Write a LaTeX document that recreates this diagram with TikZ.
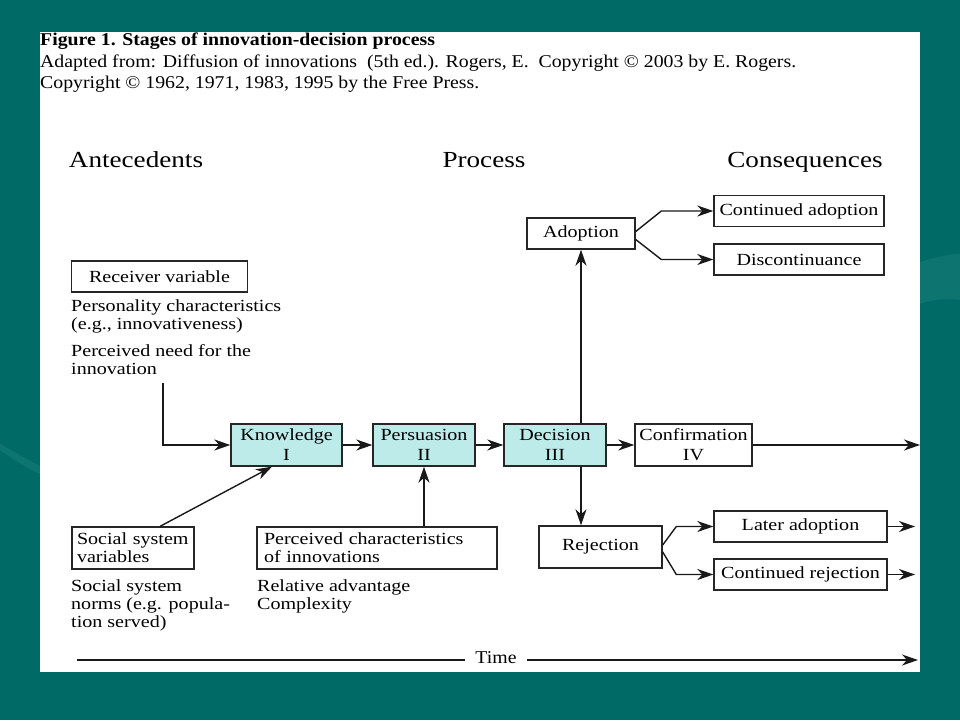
\documentclass[tikz,border=0pt]{standalone}
\usepackage{fontspec}
\setmainfont{Liberation Serif}
\newfontfamily\dfont[FakeStretch=1.18]{Liberation Serif}
\newfontfamily\tfont[FakeStretch=1.1]{Liberation Serif}
\usetikzlibrary{arrows.meta,calc}
\definecolor{teal0}{HTML}{006B66}
\definecolor{teal1}{HTML}{2E8A84}
\definecolor{boxfill}{HTML}{BDEBEA}
\tikzset{
  box/.style={draw=black!85, line width=1.4pt, inner sep=0pt, font=\dfont\fontsize{17}{20}\selectfont, align=center},
  stage/.style={box, fill=boxfill, minimum height=42pt},
  plain/.style={inner sep=0pt, font=\dfont\fontsize{17}{18}\selectfont, align=left},
  head/.style={inner sep=0pt, font=\dfont\fontsize{23}{26}\selectfont},
  ttl/.style={inner sep=0pt, anchor=west, font=\tfont\fontsize{18}{20}\selectfont},
  conn/.style={line width=1.4pt, black!90},
  arr/.style={conn, -{Stealth[length=16pt,width=11pt,inset=5pt]}}
}
\begin{document}
\begin{tikzpicture}[x=1pt,y=-1pt]
\useasboundingbox (0,0) rectangle (960,720);
\fill[teal0] (0,0) rectangle (960,720);
\fill[teal1,opacity=0.3] (920,262) .. controls (940,256) and (950,254) .. (960,254) -- (960,300) .. controls (945,298) and (930,300) .. (920,304) -- cycle;
\fill[teal1,opacity=0.3] (0,444) .. controls (15,452) and (28,460) .. (40,466) -- (40,474) .. controls (26,468) and (12,458) .. (0,450) -- cycle;
\fill[white] (40,32) rectangle (920,672);

% title
\node[ttl] (t1) at (40,41.5) {\bfseries Figure 1. Stages of innovation-decision process};
\node[ttl] (t2) at (40,63) {Adapted from: Diffusion of innovations\ \ (5th ed.). Rogers, E.\ \ Copyright © 2003 by E. Rogers.};
\node[ttl] (t3) at (40,84) {Copyright © 1962, 1971, 1983, 1995 by the Free Press.};

% headers
\node[head] (hA) at (136,160) {Antecedents};
\node[head] (hP) at (484,160) {Process};
\node[head] (hC) at (805,162) {Consequences};

% stages
\node[stage, minimum width=111pt] (know) at (286.5,445) {Knowledge\\I};
\node[stage, minimum width=102pt] (pers) at (424,445) {Persuasion\\II};
\node[stage, minimum width=102pt] (dec) at (555,445) {Decision\\III};
\node[box, minimum width=117pt, minimum height=42pt] (conf) at (693.5,445) {Confirmation\\IV};

% consequences
\node[box, minimum width=108pt, minimum height=31pt] (adop) at (581,233.5) {Adoption};
\node[box, minimum width=170pt, minimum height=31pt] (ca) at (799,211) {Continued adoption};
\node[box, minimum width=170pt, minimum height=31pt] (disc) at (799,259.5) {Discontinuance};
\node[box, minimum width=123pt, minimum height=42pt] (rej) at (600.5,547) {Rejection};
\node[box, minimum width=173pt, minimum height=31pt] (la) at (800.5,526.5) {Later adoption};
\node[box, minimum width=173pt, minimum height=31pt] (cr) at (800.5,574.5) {Continued rejection};

% antecedents
\node[box, minimum width=176pt, minimum height=31pt] (rv) at (159.5,276.5) {Receiver variable};
\node[plain, anchor=north west] (pcx) at (71,299) {Personality characteristics\\(e.g., innovativeness)};
\node[plain, anchor=north west] (pnd) at (71,344) {Perceived need for the\\innovation};
\node[box, minimum width=122pt, minimum height=42pt, align=left, text width=112pt, font=\dfont\fontsize{17}{18}\selectfont] (ssv) at (133,548) {Social system\\variables};
\node[plain, anchor=north west] (ssn) at (71,579) {Social system\\norms (e.g. popula-\\tion served)};
\node[box, minimum width=240pt, minimum height=42pt, align=left, text width=226pt, font=\dfont\fontsize{17}{18}\selectfont] (pc) at (377,548) {Perceived characteristics\\of innovations};
\node[plain, anchor=north west] (rel) at (257,579) {Relative advantage\\Complexity};

% time
\node[inner sep=0pt, font=\tfont\fontsize{18}{20}\selectfont] (time) at (496,658) {Time};
\coordinate (tl) at (77,660);
\coordinate (tr) at (918,660);
\draw[conn] (tl) -- ([xshift=-10pt]time.west |- tl);
\draw[arr] ([xshift=10pt]time.east |- tr) -- (tr);

% connectors
\coordinate (pnEnd) at (163,383);
\draw[arr] (pnEnd) |- (know.west);
\draw[arr] ($(ssv.north west)!0.72!(ssv.north east)$) -- ($(know.south west)!0.37!(know.south east)$);
\draw[arr] (pc.north -| pers.south) -- (pers.south);
\draw[arr] (know) -- (pers);
\draw[arr] (pers) -- (dec);
\draw[arr] (dec) -- (conf);
\coordinate (confEnd) at (920,445);
\draw[arr] (conf) -- (confEnd);
\draw[arr] (adop.south |- dec.north) -- (adop.south);
\draw[arr] (adop.south |- dec.south) -- (adop.south |- rej.north);
\draw[arr] ([yshift=2pt]adop.east) -- ([xshift=-52pt]ca.west) -- (ca.west);
\draw[arr] ([yshift=-6pt]adop.east) -- ([xshift=-52pt]disc.west) -- (disc.west);
\draw[arr] ([yshift=2pt]rej.east) -- ([xshift=-37pt]la.west) -- (la.west);
\draw[arr] ([yshift=-5pt]rej.east) -- ([xshift=-37pt]cr.west) -- (cr.west);
\coordinate (laEnd) at (915,526.5);
\coordinate (crEnd) at (915,574.5);
\draw[arr] (la) -- (laEnd);
\draw[arr] (cr) -- (crEnd);
\end{tikzpicture}
\end{document}
